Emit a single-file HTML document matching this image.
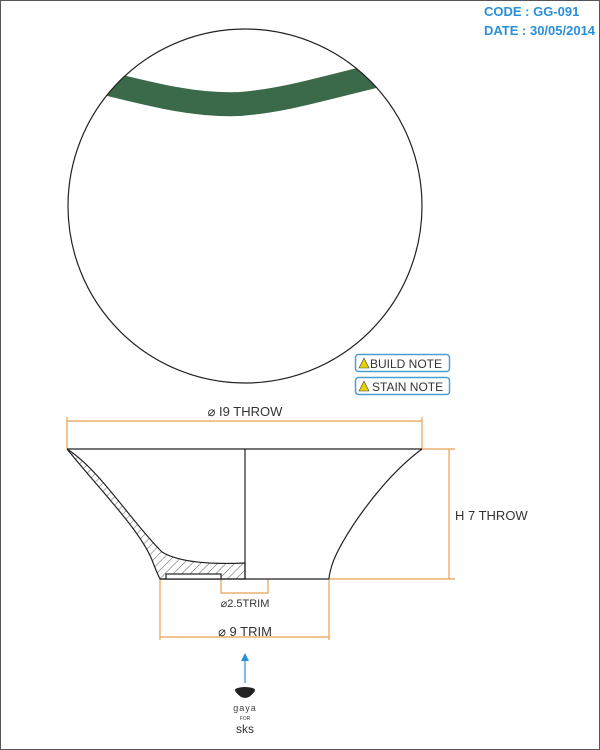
<!DOCTYPE html>
<html><head><meta charset="utf-8"><style>
html,body{margin:0;padding:0;background:#fff}
svg{display:block}
text{font-family:"Liberation Sans",sans-serif}
</style></head><body>
<svg width="600" height="750" viewBox="0 0 600 750">
<defs>
<clipPath id="cc"><circle cx="245" cy="206" r="177"/></clipPath>
<pattern id="hatch" width="6" height="6" patternUnits="userSpaceOnUse" patternTransform="rotate(45)"><line x1="0" y1="0" x2="0" y2="6" stroke="#333" stroke-width="0.8"/></pattern>
</defs>
<rect x="0.5" y="0.5" width="599" height="749" fill="none" stroke="#555"/>
<text x="484" y="16" font-size="13" font-weight="bold" fill="#2a8fd8">CODE : GG-091</text>
<text x="484" y="35" font-size="13" font-weight="bold" fill="#2a8fd8">DATE : 30/05/2014</text>
<g>
<path clip-path="url(#cc)" d="M60,72 C150,94 190,106 240,104 C290,100 330,86 400,70" stroke="#3a6a4a" stroke-width="24" fill="none"/>
<circle cx="245" cy="206" r="177" fill="none" stroke="#222" stroke-width="1.2"/>
</g>
<g>
<rect x="355.5" y="354.5" width="94" height="17" rx="3" fill="#fff" stroke="#4aa0d0" stroke-width="1.5"/>
<path d="M359,368 L364,358 L369,368 Z" fill="#e8d000" stroke="#444" stroke-width="0.6"/>
<text x="370" y="368" font-size="12" fill="#333">BUILD NOTE</text>
</g>
<g>
<rect x="355.5" y="377.5" width="94" height="17" rx="3" fill="#fff" stroke="#4aa0d0" stroke-width="1.5"/>
<path d="M359,391 L364,381 L369,391 Z" fill="#e8d000" stroke="#444" stroke-width="0.6"/>
<text x="372" y="391" font-size="12" fill="#333">STAIN NOTE</text>
</g>
<g stroke="#e8a050" fill="none" stroke-width="1.2">
<line x1="67" y1="421" x2="422" y2="421"/>
<line x1="67" y1="417" x2="67" y2="449"/><line x1="422" y1="417" x2="422" y2="449"/>
<line x1="422" y1="449" x2="455" y2="449"/><line x1="329" y1="579" x2="455" y2="579"/>
<line x1="449" y1="449" x2="449" y2="579"/>
<line x1="160" y1="579" x2="160" y2="640"/><line x1="329" y1="579" x2="329" y2="640"/>
<line x1="160" y1="637" x2="329" y2="637"/>
<polyline points="221,579 221,593 268,593 268,579"/>
</g>
<text x="245" y="416" font-size="13" fill="#333" text-anchor="middle">⌀ I9 THROW</text>
<text x="455" y="520" font-size="13" fill="#333">H 7 THROW</text>
<text x="245" y="607" font-size="11" fill="#333" text-anchor="middle">⌀2.5TRIM</text>
<text x="245" y="636" font-size="13" fill="#333" text-anchor="middle">⌀ 9 TRIM</text>
<g stroke="#222" stroke-width="1.2" fill="none">
<path d="M67,449 C100,490 140,530 152,560 C157,573 160,579 160,579 L245,579 L245,563 C200,565 175,560 162,552 C130,520 100,470 67,449 Z" fill="url(#hatch)"/>
<line x1="67" y1="449" x2="422" y2="449"/>
<line x1="245" y1="449" x2="245" y2="579"/>
<line x1="160" y1="579" x2="329" y2="579"/>
<path d="M422,449 C380,480 340,540 332,565 C329,575 329,579 329,579"/>
<rect x="166" y="574" width="55" height="5" fill="#fff"/>
</g>
<g>
<line x1="245" y1="683" x2="245" y2="660" stroke="#2a8fd8" stroke-width="1.2"/>
<path d="M241,661 L245,653 L249,661 Z" fill="#2a8fd8"/>
</g>
<g>
<ellipse cx="245" cy="690" rx="10" ry="3" fill="#222"/>
<path d="M235,691 Q245,705 255,691 Z" fill="#222"/>
<text x="245" y="711" font-size="9" fill="#444" text-anchor="middle" letter-spacing="1">gaya</text>
<text x="245" y="720" font-size="5" fill="#444" text-anchor="middle">FOR</text>
<text x="245" y="733" font-size="12" fill="#333" text-anchor="middle">sks</text>
</g>
</svg>
</body></html>
